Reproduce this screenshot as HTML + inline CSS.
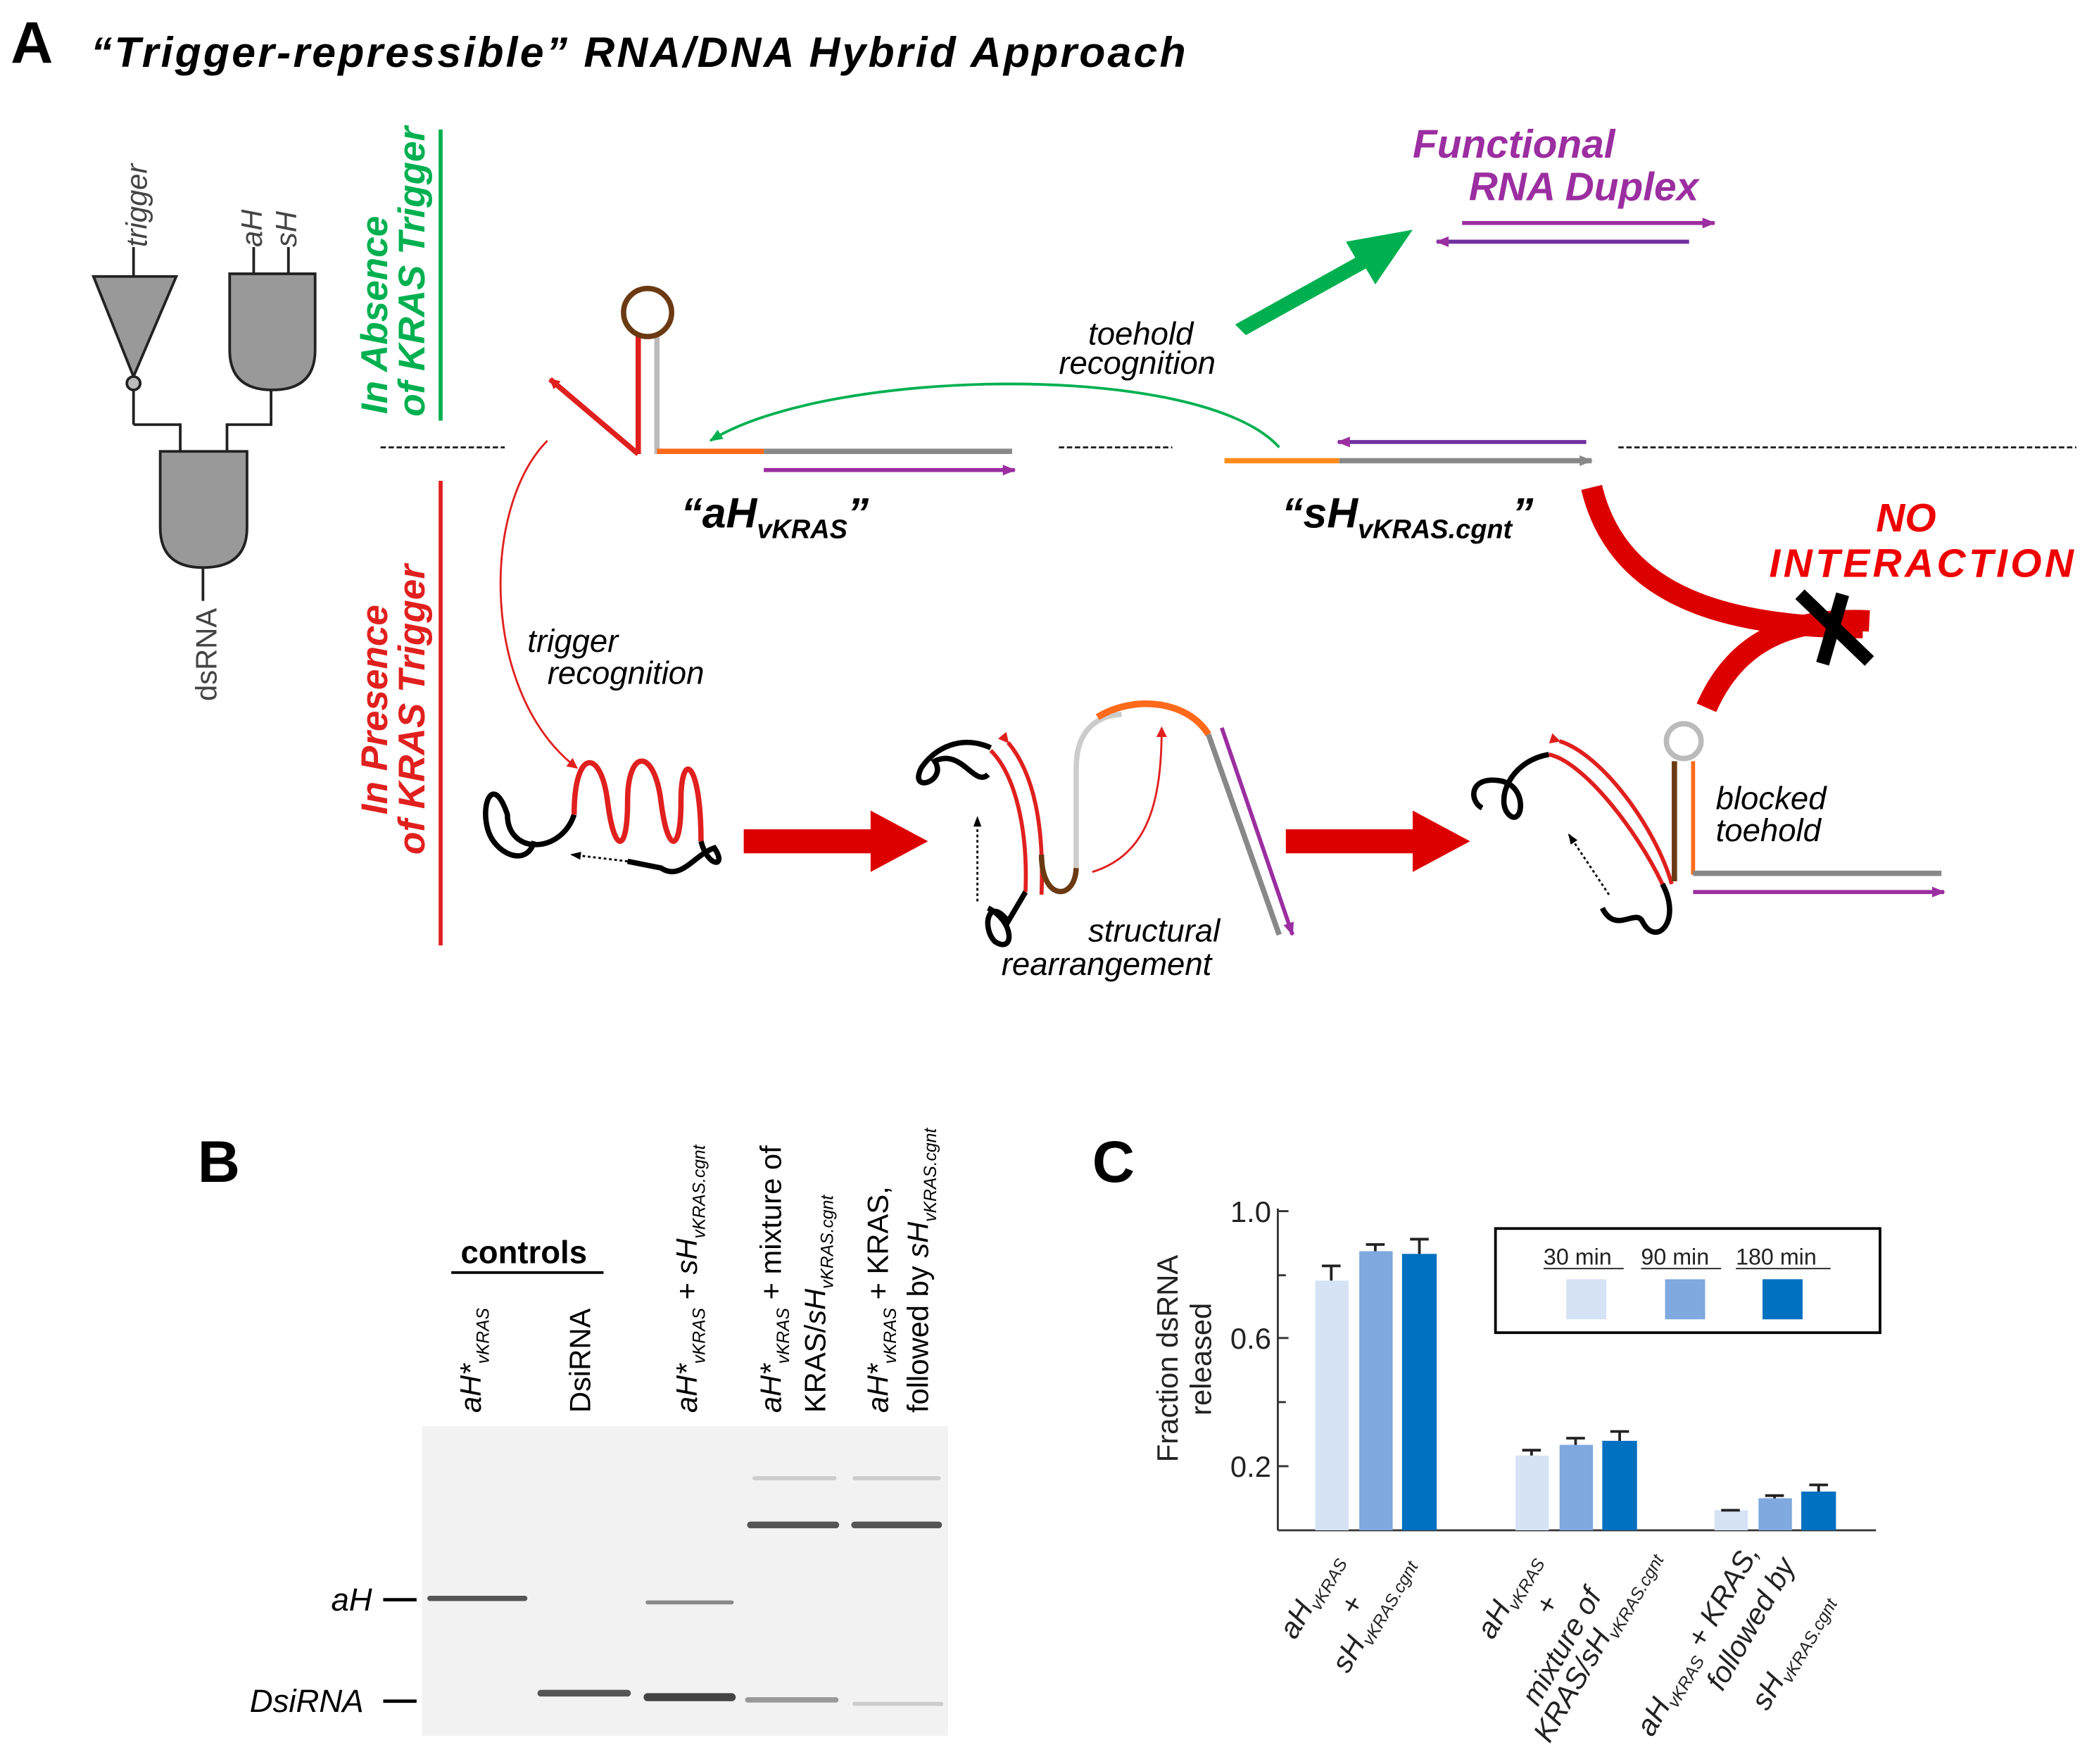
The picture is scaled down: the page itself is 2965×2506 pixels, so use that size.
<!DOCTYPE html>
<html><head><meta charset="utf-8"><style>html,body{margin:0;padding:0;background:#fff}svg{display:block}text{font-family:"Liberation Sans",sans-serif}</style></head><body>
<svg width="2965" height="2506" viewBox="0 0 1563 1321" xmlns="http://www.w3.org/2000/svg">
<defs>
<marker id="ar" markerWidth="8" markerHeight="8" refX="7" refY="4" orient="auto" markerUnits="userSpaceOnUse"><path d="M0,0 L8,4 L0,8 z" fill="#e0201e"/></marker>
<marker id="ap" markerWidth="10" markerHeight="8" refX="9" refY="4" orient="auto" markerUnits="userSpaceOnUse"><path d="M0,0 L10,4 L0,8 z" fill="#9b2ea0"/></marker>
<marker id="ag" markerWidth="10" markerHeight="8" refX="9" refY="4" orient="auto" markerUnits="userSpaceOnUse"><path d="M0,0 L10,4 L0,8 z" fill="#888"/></marker>
<marker id="agr" markerWidth="10" markerHeight="8" refX="9" refY="4" orient="auto" markerUnits="userSpaceOnUse"><path d="M0,0 L10,4 L0,8 z" fill="#00b050"/></marker>
<marker id="ab" markerWidth="8" markerHeight="6" refX="7" refY="3" orient="auto" markerUnits="userSpaceOnUse"><path d="M0,0 L8,3 L0,6 z" fill="#000"/></marker>
</defs>
<text x="8" y="47" font-size="44" font-weight="bold">A</text>
<text x="68" y="50" font-size="32" font-weight="bold" font-style="italic" textLength="820" lengthAdjust="spacing">“Trigger-repressible” RNA/DNA Hybrid Approach</text>

<g stroke="#222" stroke-width="2" fill="#999">
<line x1="100" y1="185" x2="100" y2="207"/>
<path d="M70,207 L132,207 L100,282 z"/>
<circle cx="100" cy="287" r="5" fill="#bbb"/>
<line x1="100" y1="292" x2="100" y2="318" fill="none"/>
<line x1="190" y1="185" x2="190" y2="205"/><line x1="216" y1="185" x2="216" y2="205"/>
<path d="M172,205 L236,205 L236,262 Q236,292 204,292 Q172,292 172,262 z"/>
<polyline points="100,318 135,318 135,338" fill="none"/>
<polyline points="203,292 203,318 170,318 170,338" fill="none"/>
<path d="M120,338 L185,338 L185,395 Q185,425 152,425 Q120,425 120,395 z"/>
<line x1="152" y1="425" x2="152" y2="450"/>
</g>
<text transform="translate(110,185) rotate(-90)" font-size="22" font-style="italic" fill="#444">trigger</text>
<text transform="translate(196,185) rotate(-90)" font-size="22" font-style="italic" fill="#444">aH</text>
<text transform="translate(222,185) rotate(-90)" font-size="22" font-style="italic" fill="#444">sH</text>
<text transform="translate(162,525) rotate(-90)" font-size="22" fill="#444">dsRNA</text>

<line x1="330" y1="97" x2="330" y2="315" stroke="#00b050" stroke-width="3"/>
<text transform="translate(290,310) rotate(-90)" font-size="28" font-weight="bold" font-style="italic" fill="#00b050">In Absence</text>
<text transform="translate(318,312) rotate(-90)" font-size="28" font-weight="bold" font-style="italic" fill="#00b050">of KRAS Trigger</text>
<line x1="330" y1="360" x2="330" y2="708" stroke="#e0201e" stroke-width="3"/>
<text transform="translate(290,610) rotate(-90)" font-size="28" font-weight="bold" font-style="italic" fill="#e0201e">In Presence</text>
<text transform="translate(318,640) rotate(-90)" font-size="28" font-weight="bold" font-style="italic" fill="#e0201e">of KRAS Trigger</text>

<g stroke="#222" stroke-width="1.5" stroke-dasharray="4,2">
<line x1="285" y1="335" x2="378" y2="335"/><line x1="793" y1="335" x2="878" y2="335"/><line x1="1212" y1="335" x2="1555" y2="335"/>
</g>

<line x1="478" y1="340" x2="412" y2="284" stroke="#e0201e" stroke-width="4" marker-end="url(#ar)"/>
<line x1="478" y1="340" x2="478" y2="250" stroke="#e0201e" stroke-width="4"/>
<line x1="492" y1="340" x2="492" y2="252" stroke="#bbb" stroke-width="4"/>
<circle cx="485" cy="234" r="18" fill="none" stroke="#6b3a12" stroke-width="4"/>
<line x1="492" y1="338" x2="572" y2="338" stroke="#ff6a1a" stroke-width="4"/>
<line x1="572" y1="338" x2="758" y2="338" stroke="#888" stroke-width="4"/>
<line x1="572" y1="352" x2="760" y2="352" stroke="#9b2ea0" stroke-width="3" marker-end="url(#ap)"/>
<text x="510" y="395" font-size="32" font-weight="bold" font-style="italic">“aH<tspan font-size="20" dy="8">vKRAS</tspan><tspan dy="-8">”</tspan></text>

<line x1="917" y1="345" x2="1003" y2="345" stroke="#ff8c1a" stroke-width="4"/>
<line x1="1003" y1="345" x2="1192" y2="345" stroke="#888" stroke-width="4" marker-end="url(#ag)"/>
<line x1="1188" y1="331" x2="1002" y2="331" stroke="#7030a0" stroke-width="3" marker-end="url(#ap)"/>
<text x="960" y="395" font-size="32" font-weight="bold" font-style="italic">“sH<tspan font-size="20" dy="8">vKRAS.cgnt</tspan><tspan dy="-8">”</tspan></text>

<path d="M958,335 C900,270 620,275 532,330" fill="none" stroke="#00b050" stroke-width="2" marker-end="url(#agr)"/>
<text x="815" y="258" font-size="24" font-style="italic">toehold</text>
<text x="793" y="280" font-size="24" font-style="italic">recognition</text>

<path d="M925,243 L1015,193 L1008,181 L1058,172 L1030,213 L1023,201 L933,251 z" fill="#00b050"/>
<text x="1058" y="118" font-size="30" font-weight="bold" font-style="italic" fill="#9b2ea0">Functional</text>
<text x="1100" y="150" font-size="30" font-weight="bold" font-style="italic" fill="#9b2ea0">RNA Duplex</text>
<line x1="1095" y1="167" x2="1284" y2="167" stroke="#9b2ea0" stroke-width="3" marker-end="url(#ap)"/>
<line x1="1265" y1="181" x2="1076" y2="181" stroke="#7030a0" stroke-width="3" marker-end="url(#ap)"/>

<path d="M1192,365 C1210,440 1280,470 1395,470" fill="none" stroke="#dd0000" stroke-width="16"/>
<path d="M1278,530 C1300,480 1340,462 1400,465" fill="none" stroke="#dd0000" stroke-width="16"/>
<path d="M1348,445 L1400,495 M1380,445 L1365,497" stroke="#000" stroke-width="10"/>
<text x="1405" y="398" font-size="30" font-weight="bold" font-style="italic" fill="#ee0000">NO</text>
<text x="1325" y="432" font-size="30" font-weight="bold" font-style="italic" fill="#ee0000" textLength="228" lengthAdjust="spacing">INTERACTION</text>

<path d="M410,330 C360,380 360,520 432,575" fill="none" stroke="#e0201e" stroke-width="1.5" marker-end="url(#ar)"/>
<text x="395" y="488" font-size="24" font-style="italic">trigger</text>
<text x="410" y="512" font-size="24" font-style="italic">recognition</text>

<path d="M430,610 C420,640 380,640 380,610 C370,580 360,600 365,620 C370,640 395,650 400,630" fill="none" stroke="#000" stroke-width="4"/>
<path d="M430,610 C430,560 450,560 455,600 C460,640 470,640 470,600 C470,560 490,560 495,600 C500,640 510,640 510,600 C510,560 525,570 525,630" fill="none" stroke="#e0201e" stroke-width="4"/>
<path d="M525,630 C530,650 545,650 535,635 C520,640 510,660 495,650 L470,645" fill="none" stroke="#000" stroke-width="4"/>
<line x1="470" y1="645" x2="428" y2="640" stroke="#000" stroke-width="1.5" stroke-dasharray="2,2" marker-end="url(#ab)"/>
<path d="M557,621 L652,621 L652,607 L695,630 L652,653 L652,639 L557,639 z" fill="#dd0000"/>

<path d="M742,560 C720,550 700,560 690,575 C680,595 710,585 700,570 C720,560 730,590 740,580" fill="none" stroke="#000" stroke-width="4"/>
<path d="M742,562 C760,580 770,620 768,668" fill="none" stroke="#e0201e" stroke-width="3"/>
<path d="M755,556 C775,580 782,620 780,670" fill="none" stroke="#e0201e" stroke-width="3" marker-start="url(#ar)"/>
<path d="M768,668 L755,690 C740,670 735,695 745,705 C760,715 760,690 740,680" fill="none" stroke="#000" stroke-width="4"/>
<line x1="732" y1="675" x2="732" y2="612" stroke="#000" stroke-width="1.5" stroke-dasharray="2,2" marker-end="url(#ab)"/>
<path d="M780,640 C780,675 805,675 806,650" fill="none" stroke="#6b3a12" stroke-width="4"/>
<path d="M806,650 L806,575 C806,540 830,535 840,535" fill="none" stroke="#ccc" stroke-width="4"/>
<path d="M822,537 C850,520 890,525 905,550" fill="none" stroke="#ff6a1a" stroke-width="5"/>
<path d="M818,653 C860,640 870,600 870,545" fill="none" stroke="#e0201e" stroke-width="1.5" marker-end="url(#ar)"/>
<line x1="905" y1="550" x2="958" y2="700" stroke="#888" stroke-width="4"/>
<line x1="915" y1="545" x2="968" y2="700" stroke="#9b2ea0" stroke-width="3" marker-end="url(#ap)"/>
<text x="815" y="705" font-size="24" font-style="italic">structural</text>
<text x="750" y="730" font-size="24" font-style="italic">rearrangement</text>
<path d="M963,621 L1058,621 L1058,607 L1101,630 L1058,653 L1058,639 L963,639 z" fill="#dd0000"/>

<path d="M1160,565 C1130,570 1120,600 1130,610 C1140,620 1145,590 1125,585 C1100,580 1100,600 1110,605" fill="none" stroke="#000" stroke-width="4"/>
<path d="M1160,565 C1185,570 1225,620 1245,662" fill="none" stroke="#e0201e" stroke-width="3"/>
<path d="M1168,555 C1200,565 1240,620 1252,662" fill="none" stroke="#e0201e" stroke-width="3" marker-start="url(#ar)"/>
<path d="M1245,662 C1260,690 1240,710 1230,690 C1225,680 1210,700 1200,680" fill="none" stroke="#000" stroke-width="4"/>
<line x1="1205" y1="670" x2="1175" y2="625" stroke="#000" stroke-width="1.5" stroke-dasharray="2,2" marker-end="url(#ab)"/>
<line x1="1254" y1="660" x2="1254" y2="570" stroke="#6b3a12" stroke-width="4"/>
<line x1="1268" y1="655" x2="1268" y2="570" stroke="#ff6a1a" stroke-width="3"/>
<circle cx="1261" cy="555" r="13" fill="none" stroke="#bbb" stroke-width="4"/>
<line x1="1268" y1="654" x2="1454" y2="654" stroke="#888" stroke-width="4"/>
<line x1="1268" y1="668" x2="1456" y2="668" stroke="#9b2ea0" stroke-width="3" marker-end="url(#ap)"/>
<text x="1285" y="606" font-size="24" font-style="italic">blocked</text>
<text x="1285" y="630" font-size="24" font-style="italic">toehold</text>

<text x="148" y="885" font-size="44" font-weight="bold">B</text>
<text x="345" y="946" font-size="24" font-weight="bold">controls</text>
<line x1="338" y1="953" x2="452" y2="953" stroke="#000" stroke-width="2"/>
<g font-size="22">
<text transform="translate(360,1058) rotate(-90)"><tspan font-style="italic">aH*</tspan><tspan font-size="13" font-style="italic" dy="6">vKRAS</tspan></text>
<text transform="translate(442,1058) rotate(-90)">DsiRNA</text>
<text transform="translate(522,1058) rotate(-90)"><tspan font-style="italic">aH*</tspan><tspan font-size="13" font-style="italic" dy="6">vKRAS</tspan><tspan dy="-6"> + </tspan><tspan font-style="italic">sH</tspan><tspan font-size="13" font-style="italic" dy="6">vKRAS.cgnt</tspan></text>
<text transform="translate(585,1058) rotate(-90)"><tspan font-style="italic">aH*</tspan><tspan font-size="13" font-style="italic" dy="6">vKRAS</tspan><tspan dy="-6"> + mixture of</tspan></text>
<text transform="translate(618,1058) rotate(-90)">KRAS/<tspan font-style="italic">sH</tspan><tspan font-size="13" font-style="italic" dy="6">vKRAS.cgnt</tspan></text>
<text transform="translate(665,1058) rotate(-90)"><tspan font-style="italic">aH*</tspan><tspan font-size="13" font-style="italic" dy="6">vKRAS</tspan><tspan dy="-6"> + KRAS,</tspan></text>
<text transform="translate(695,1058) rotate(-90)">followed by <tspan font-style="italic">sH</tspan><tspan font-size="13" font-style="italic" dy="6">vKRAS.cgnt</tspan></text>
</g>
<rect x="316" y="1068" width="394" height="232" fill="#f2f2f2"/>
<g stroke-linecap="round">
<line x1="322" y1="1197" x2="393" y2="1197" stroke="#555" stroke-width="4"/>
<line x1="485" y1="1200" x2="548" y2="1200" stroke="#888" stroke-width="3"/>
<line x1="405" y1="1268" x2="470" y2="1268" stroke="#555" stroke-width="5"/>
<line x1="485" y1="1271" x2="548" y2="1271" stroke="#444" stroke-width="6"/>
<line x1="560" y1="1273" x2="626" y2="1273" stroke="#999" stroke-width="4"/>
<line x1="640" y1="1276" x2="705" y2="1276" stroke="#ccc" stroke-width="3"/>
<line x1="562" y1="1142" x2="626" y2="1142" stroke="#555" stroke-width="5"/>
<line x1="640" y1="1142" x2="703" y2="1142" stroke="#555" stroke-width="5"/>
<line x1="565" y1="1107" x2="625" y2="1107" stroke="#ccc" stroke-width="3"/>
<line x1="640" y1="1107" x2="703" y2="1107" stroke="#ccc" stroke-width="3"/>
</g>
<text x="248" y="1206" font-size="24" font-style="italic">aH</text>
<line x1="287" y1="1198" x2="312" y2="1198" stroke="#000" stroke-width="2.5"/>
<text x="187" y="1282" font-size="24" font-style="italic">DsiRNA</text>
<line x1="287" y1="1274" x2="312" y2="1274" stroke="#000" stroke-width="2.5"/>

<text x="818" y="885" font-size="44" font-weight="bold">C</text>
<g stroke="#333" stroke-width="1.5">
<line x1="957" y1="905" x2="957" y2="1146"/><line x1="957" y1="1146" x2="1405" y2="1146"/>
<line x1="957" y1="907" x2="965" y2="907"/><line x1="957" y1="955" x2="963" y2="955"/><line x1="957" y1="1002" x2="965" y2="1002"/><line x1="957" y1="1050" x2="963" y2="1050"/><line x1="957" y1="1098" x2="965" y2="1098"/>
</g>
<g font-size="22" fill="#222" text-anchor="end">
<text x="952" y="915">1.0</text><text x="952" y="1010">0.6</text><text x="952" y="1106">0.2</text>
</g>
<text transform="translate(882,1095) rotate(-90)" font-size="22" fill="#222">Fraction dsRNA</text>
<text transform="translate(907,1060) rotate(-90)" font-size="22" fill="#222">released</text>
<g>
<rect x="985" y="959" width="25" height="187" fill="#d6e3f5"/>
<rect x="1018" y="937" width="25" height="209" fill="#7fa9df"/>
<rect x="1050" y="939" width="26" height="207" fill="#0070c0"/>
<rect x="1135" y="1090" width="25" height="56" fill="#d6e3f5"/>
<rect x="1168" y="1082" width="25" height="64" fill="#7fa9df"/>
<rect x="1200" y="1079" width="26" height="67" fill="#0070c0"/>
<rect x="1284" y="1131" width="25" height="15" fill="#d6e3f5"/>
<rect x="1317" y="1122" width="25" height="24" fill="#7fa9df"/>
<rect x="1349" y="1117" width="26" height="29" fill="#0070c0"/>
</g>
<g stroke="#222" stroke-width="2" fill="none">
<path d="M997,959 V948 M990,948 H1004"/><path d="M1030,937 V932 M1023,932 H1037"/><path d="M1063,939 V928 M1056,928 H1070"/>
<path d="M1147,1090 V1086 M1140,1086 H1154"/><path d="M1180,1082 V1077 M1173,1077 H1187"/><path d="M1213,1079 V1072 M1206,1072 H1220"/>
<path d="M1289,1131 H1303"/><path d="M1329,1122 V1120 M1322,1120 H1336"/><path d="M1362,1117 V1112 M1355,1112 H1369"/>
</g>
<rect x="1120" y="920" width="288" height="78" fill="none" stroke="#000" stroke-width="2"/>
<g font-size="17" fill="#222">
<text x="1156" y="947">30 min</text><text x="1229" y="947">90 min</text><text x="1300" y="947">180 min</text>
</g>
<g stroke="#222" stroke-width="1"><line x1="1156" y1="950" x2="1216" y2="950"/><line x1="1229" y1="950" x2="1289" y2="950"/><line x1="1300" y1="950" x2="1371" y2="950"/></g>
<rect x="1173" y="958" width="30" height="30" fill="#d6e3f5"/>
<rect x="1247" y="958" width="30" height="30" fill="#7fa9df"/>
<rect x="1320" y="958" width="30" height="30" fill="#0070c0"/>
<g font-size="22" fill="#222" font-style="italic" text-anchor="end">
<text transform="translate(1005,1168) rotate(-60)">aH<tspan font-size="13" dy="5">vKRAS</tspan></text>
<text transform="translate(1022,1200) rotate(-60)">+</text>
<text transform="translate(1058,1170) rotate(-60)">sH<tspan font-size="13" dy="5">vKRAS.cgnt</tspan></text>
<text transform="translate(1153,1168) rotate(-60)">aH<tspan font-size="13" dy="5">vKRAS</tspan></text>
<text transform="translate(1168,1200) rotate(-60)">+</text>
<text transform="translate(1200,1195) rotate(-60)">mixture of</text>
<text transform="translate(1242,1165) rotate(-60)">KRAS/sH<tspan font-size="13" dy="5">vKRAS.cgnt</tspan></text>
<text transform="translate(1318,1162) rotate(-60)">aH<tspan font-size="13" dy="5">vKRAS</tspan><tspan dy="-5"> + KRAS,</tspan></text>
<text transform="translate(1345,1172) rotate(-60)">followed by</text>
<text transform="translate(1372,1198) rotate(-60)">sH<tspan font-size="13" dy="5">vKRAS.cgnt</tspan></text>
</g>
</svg>
</body></html>
